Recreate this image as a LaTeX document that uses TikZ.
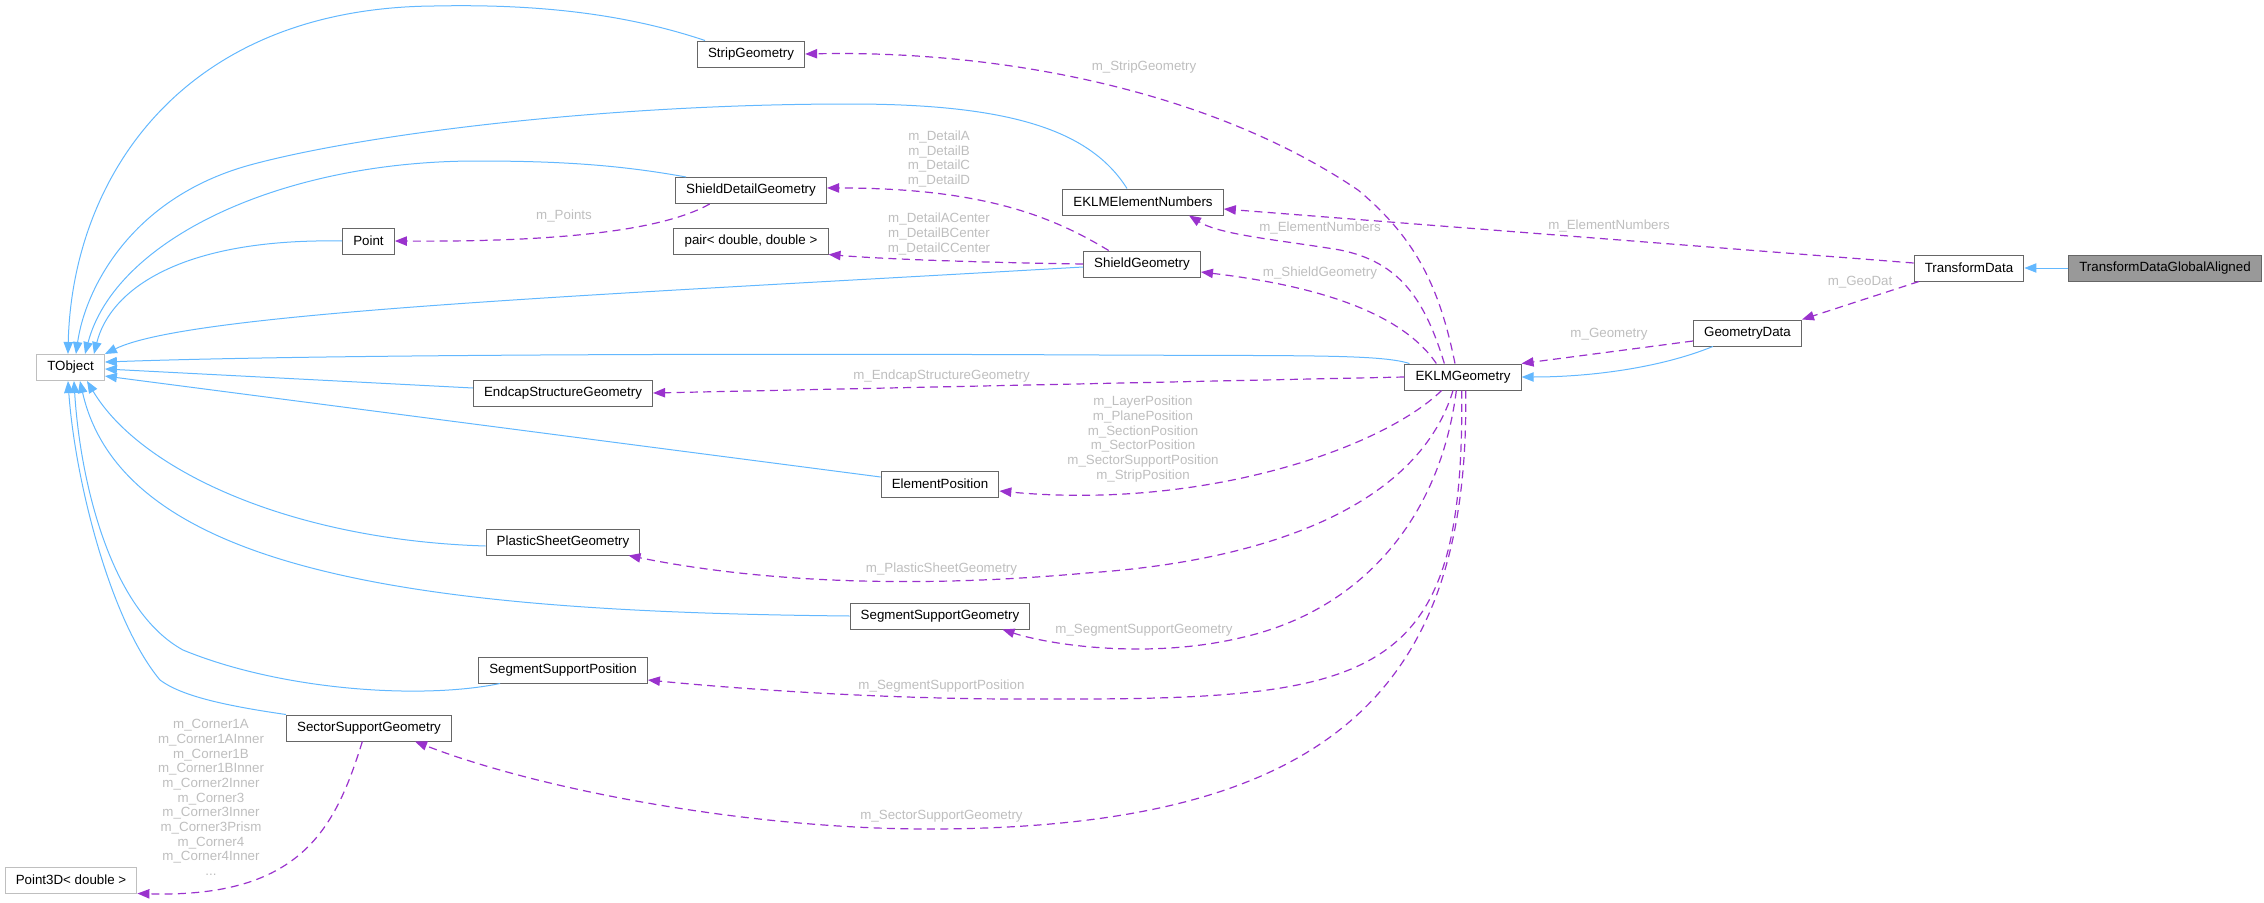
\documentclass[tikz,border=0pt]{standalone}
\usepackage{fontspec}
\setmainfont{Liberation Sans}
\usepackage{xcolor}
\usepackage{tikz}
\usetikzlibrary{arrows.meta}

\definecolor{edgeblue}{HTML}{63B8FF}
\definecolor{edgepurple}{HTML}{9A32CD}
\definecolor{labelgrey}{HTML}{BEBEBE}
\definecolor{boxgrey}{HTML}{666666}
\definecolor{undocgrey}{HTML}{BFBFBF}
\definecolor{mainfill}{HTML}{999999}

\begin{document}
\begin{tikzpicture}[x=0.75pt,y=-0.75pt,
	classbox/.style={draw=boxgrey,line width=0.75pt,fill=white,inner xsep=8pt,inner ysep=0pt,minimum height=19.5pt,font=\fontsize{10}{12}\selectfont},
	undocbox/.style={classbox,draw=undocgrey},
	mainbox/.style={classbox,fill=mainfill},
	memberlabel/.style={text=labelgrey,align=center,inner sep=0pt,font=\fontsize{10}{11}\selectfont},
	inheritline/.style={draw=edgeblue,line width=0.75pt,-{Triangle[length=9pt,width=7pt]}},
	memberline/.style={draw=edgepurple,line width=0.9pt,dash pattern=on 6pt off 4pt,-{Triangle[length=9pt,width=7pt]}}]
	\useasboundingbox (0,0) rectangle (2264,903);

	\node[undocbox] (TObject) at (70.5,367.5) {TObject};
	\node[undocbox] (Point3D) at (71,880) {Point3D< double >};
	\node[classbox] (Point) at (368.5,241) {Point};
	\node[classbox] (SectorSupportGeometry) at (369,728) {SectorSupportGeometry};
	\node[classbox] (EndcapStructureGeometry) at (563,393) {EndcapStructureGeometry};
	\node[classbox] (PlasticSheetGeometry) at (563,542) {PlasticSheetGeometry};
	\node[classbox] (SegmentSupportPosition) at (563,670) {SegmentSupportPosition};
	\node[classbox] (StripGeometry) at (751,54) {StripGeometry};
	\node[classbox] (ShieldDetailGeometry) at (751,190.5) {ShieldDetailGeometry};
	\node[classbox] (pair) at (751,241) {pair< double, double >};
	\node[classbox] (ElementPosition) at (940,484) {ElementPosition};
	\node[classbox] (SegmentSupportGeometry) at (940,616) {SegmentSupportGeometry};
	\node[classbox] (EKLMElementNumbers) at (1143,202) {EKLMElementNumbers};
	\node[classbox] (ShieldGeometry) at (1142,264) {ShieldGeometry};
	\node[classbox] (EKLMGeometry) at (1463,377) {EKLMGeometry};
	\node[classbox] (GeometryData) at (1747.5,333) {GeometryData};
	\node[classbox] (TransformData) at (1969,268) {TransformData};
	\node[mainbox] (TransformDataGlobalAligned) at (2165,268) {TransformDataGlobalAligned};

	\node[memberlabel] (lblStrip) at (1144,67) {m\_StripGeometry};
	\node[memberlabel] (lblNumbersA) at (1320,228) {m\_ElementNumbers};
	\node[memberlabel] (lblNumbersB) at (1609,226) {m\_ElementNumbers};
	\node[memberlabel] (lblShield) at (1320,273) {m\_ShieldGeometry};
	\node[memberlabel] (lblDetail) at (939,159) {m\_DetailA\\m\_DetailB\\m\_DetailC\\m\_DetailD};
	\node[memberlabel] (lblCenter) at (939,234) {m\_DetailACenter\\m\_DetailBCenter\\m\_DetailCCenter};
	\node[memberlabel] (lblPoints) at (564,216) {m\_Points};
	\node[memberlabel] (lblEndcap) at (941.5,376) {m\_EndcapStructureGeometry};
	\node[memberlabel] (lblPosition) at (1143,439) {m\_LayerPosition\\m\_PlanePosition\\m\_SectionPosition\\m\_SectorPosition\\m\_SectorSupportPosition\\m\_StripPosition};
	\node[memberlabel] (lblPlastic) at (941.5,569) {m\_PlasticSheetGeometry};
	\node[memberlabel] (lblSegGeo) at (1144,630) {m\_SegmentSupportGeometry};
	\node[memberlabel] (lblSegPos) at (941.5,686) {m\_SegmentSupportPosition};
	\node[memberlabel] (lblSector) at (941.5,816) {m\_SectorSupportGeometry};
	\node[memberlabel] (lblCorner) at (211,797.5) {m\_Corner1A\\m\_Corner1AInner\\m\_Corner1B\\m\_Corner1BInner\\m\_Corner2Inner\\m\_Corner3\\m\_Corner3Inner\\m\_Corner3Prism\\m\_Corner4\\m\_Corner4Inner\\...};
	\node[memberlabel] (lblGeometry) at (1609,334) {m\_Geometry};
	\node[memberlabel] (lblGeoDat) at (1860,282) {m\_GeoDat};

	\draw[inheritline] ([xshift=-34.5pt]StripGeometry.north) .. controls (620,12) and (530,4) .. (434,6) .. controls (180,8) and (72,180) .. ([xshift=-1.9pt]TObject.north);
	\draw[inheritline] ([xshift=-12pt]EKLMElementNumbers.north) .. controls (1090,130) and (1010,104) .. (850,104) .. controls (600,104) and (360,135) .. (250,165) .. controls (130,198) and (85,290) .. ([xshift=4.1pt]TObject.north);
	\draw[inheritline] ([xshift=-48.75pt]ShieldDetailGeometry.north) .. controls (620,165) and (560,161) .. (477,161) .. controls (280,161) and (115,240) .. ([xshift=10.9pt]TObject.north);
	\draw[inheritline] (Point.west) .. controls (180,238) and (110,290) .. ([xshift=17.6pt]TObject.north);
	\draw[inheritline] ([yshift=-2.25pt]ShieldGeometry.west) .. controls (600,295) and (190,312) .. (TObject.north east);
	\draw[inheritline] ([xshift=3.75pt]EKLMGeometry.north west) .. controls (1380,354) and (1300,356) .. (1100,355) .. controls (700,353) and (300,355) .. ([yshift=4.1pt]TObject.east);
	\draw[inheritline] ([yshift=3.75pt]EndcapStructureGeometry.west) -- ([yshift=-1.1pt]TObject.east);
	\draw[inheritline] ([yshift=5.25pt]ElementPosition.west) -- ([yshift=-6.4pt]TObject.east);
	\draw[inheritline] ([yshift=-3pt]PlasticSheetGeometry.west) .. controls (290,540) and (140,470) .. ([xshift=12.4pt]TObject.south);
	\draw[inheritline] (SegmentSupportGeometry.west) .. controls (450,612) and (125,580) .. ([xshift=7.1pt]TObject.south);
	\draw[inheritline] ([xshift=16.5pt]SegmentSupportPosition.south west) .. controls (420,700) and (280,690) .. (183,650) .. controls (110,610) and (80,480) .. ([xshift=2.6pt]TObject.south);
	\draw[inheritline] (SectorSupportGeometry.north west) .. controls (220,705) and (180,695) .. (160,680) .. controls (110,620) and (75,480) .. ([xshift=-1.9pt]TObject.south);
	\draw[inheritline] ([xshift=-26pt]GeometryData.south) .. controls (1660,368) and (1590,377) .. (EKLMGeometry.east);
	\draw[inheritline] (TransformDataGlobalAligned.west) -- (TransformData.east);

	\draw[memberline] ([xshift=-6pt]EKLMGeometry.north) .. controls (1440,290) and (1418,240) .. (1358,190) .. controls (1210,90) and (1000,50) .. (StripGeometry.east);
	\draw[memberline] ([xshift=-14pt]EKLMGeometry.north) .. controls (1425,300) and (1400,262) .. (1340,250) .. controls (1280,240) and (1220,235) .. ([xshift=34.5pt]EKLMElementNumbers.south);
	\draw[memberline] ([yshift=3.75pt]TransformData.west) -- ([yshift=-5.25pt]EKLMElementNumbers.east);
	\draw[memberline] ([xshift=-20pt]EKLMGeometry.north) .. controls (1400,310) and (1310,285) .. ([yshift=-6pt]ShieldGeometry.east);
	\draw[memberline] ([xshift=-25pt]ShieldGeometry.north) .. controls (1050,215) and (980,188) .. ([yshift=1.9pt]ShieldDetailGeometry.east);
	\draw[memberline] (ShieldGeometry.west) .. controls (950,262) and (870,258) .. (pair.south east);
	\draw[memberline] ([xshift=-31pt]ShieldDetailGeometry.south) .. controls (660,232) and (550,242) .. (Point.east);
	\draw[memberline] (EKLMGeometry.west) -- (EndcapStructureGeometry.east);
	\draw[memberline] ([xshift=-16pt]EKLMGeometry.south) .. controls (1380,450) and (1200,510) .. ([yshift=-5.25pt]ElementPosition.east);
	\draw[memberline] ([xshift=-7.5pt]EKLMGeometry.south) .. controls (1420,500) and (1280,560) .. (1087,573) .. controls (900,590) and (750,580) .. ([xshift=-9pt]PlasticSheetGeometry.south east);
	\draw[memberline] ([xshift=-5pt]EKLMGeometry.south) .. controls (1440,520) and (1360,610) .. (1244,637) .. controls (1150,660) and (1050,645) .. ([xshift=-21pt]SegmentSupportGeometry.south east);
	\draw[memberline] ([xshift=-1pt]EKLMGeometry.south) .. controls (1465,680) and (1380,700) .. (1046,699) .. controls (900,700) and (750,690) .. ([yshift=-7.5pt]SegmentSupportPosition.east);
	\draw[memberline] ([xshift=2pt]EKLMGeometry.south) .. controls (1470,690) and (1330,829) .. (928,829) .. controls (750,829) and (540,790) .. ([xshift=34.5pt]SectorSupportGeometry.south);
	\draw[memberline] ([xshift=-5pt]SectorSupportGeometry.south) .. controls (335,830) and (300,898) .. (Point3D.south east);
	\draw[memberline] ([yshift=-6pt]GeometryData.west) -- (EKLMGeometry.north east);
	\draw[memberline] ([xshift=4pt]TransformData.south west) -- (GeometryData.north east);
\end{tikzpicture}
\end{document}
